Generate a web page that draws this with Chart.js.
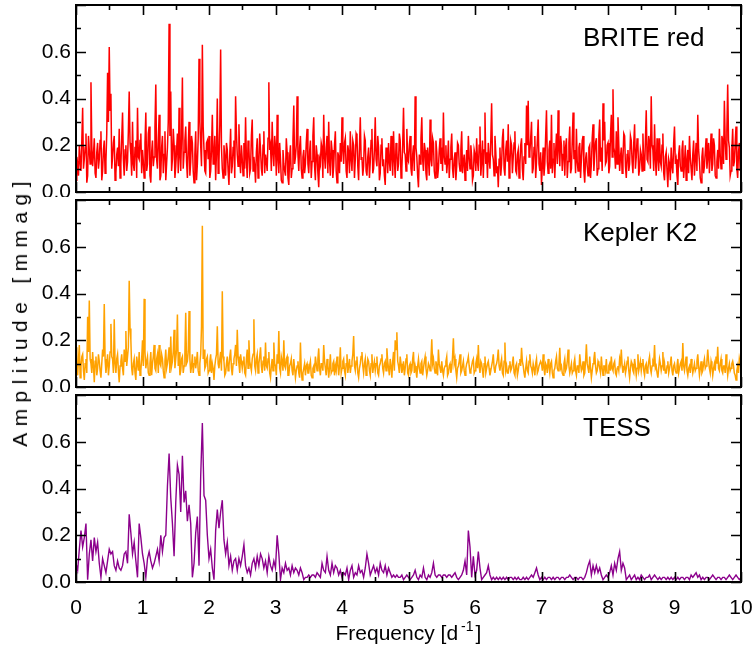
<!DOCTYPE html>
<html>
<head>
<meta charset="utf-8">
<script src="https://cdn.jsdelivr.net/npm/chart.js@4.4.1/dist/chart.umd.min.js"></script>
<style>
body { margin: 0; background: #fff; }
#fig { position: relative; width: 753px; height: 646px; overflow: hidden; }
#fig canvas { position: absolute; left: 0; }
#ylab {
    position: absolute; left: 20px; top: 311px;
    transform: translate(-50%, -50%) rotate(-90deg);
    white-space: nowrap; font: 21px "Liberation Sans", Arial, sans-serif;
    letter-spacing: 6.4px; color: #000; line-height: 24px;
}
</style>
</head>
<body>
<div id="fig">
    <canvas id="briteChart" width="753" height="197" style="top:0px"></canvas>
    <canvas id="k2Chart" width="753" height="197" style="top:195px"></canvas>
    <canvas id="tessChart" width="753" height="256" style="top:390px"></canvas>
    <div id="ylab">Amplitude [mmag]</div>
</div>
<script>
// frequency grid: one value every 0.025 c/d from 0 to 10
const freqStep = 0.025;
const panelLabels = ["BRITE red", "Kepler K2", "TESS"];
const yTickLabels = ["0.0", "0.2", "0.4", "0.6"];
const xTickLabels = ["0", "1", "2", "3", "4", "5", "6", "7", "8", "9", "10"];
const xTitle = "Frequency [d";
const xTitleSup = "-1";

// amplitudes in mmag, each row covers 0.5 c/d
const briteRed = [
    0.05,0.12,0.20,0.09,0.36,0.14,0.25,0.07,0.18,0.47,0.11,0.23,0.06,0.21,0.14,0.26,0.09,0.22,0.13,0.51,
    0.62,0.42,0.15,0.24,0.08,0.19,0.27,0.12,0.34,0.07,0.20,0.13,0.43,0.16,0.30,0.09,0.22,0.36,0.14,0.25,
    0.18,0.06,0.34,0.12,0.28,0.04,0.22,0.15,0.46,0.10,0.33,0.07,0.24,0.16,0.05,0.19,0.72,0.43,0.14,0.20,
    0.11,0.25,0.36,0.09,0.49,0.17,0.28,0.06,0.30,0.13,0.21,0.04,0.26,0.12,0.57,0.20,0.63,0.18,0.08,0.22,
    0.24,0.09,0.33,0.15,0.05,0.40,0.13,0.61,0.10,0.20,0.07,0.18,0.03,0.27,0.11,0.22,0.41,0.16,0.29,0.08,
    0.14,0.21,0.32,0.06,0.19,0.10,0.31,0.15,0.04,0.23,0.12,0.18,0.07,0.26,0.16,0.09,0.47,0.20,0.30,0.11,
    0.19,0.33,0.08,0.14,0.04,0.12,0.07,0.17,0.03,0.20,0.10,0.37,0.15,0.41,0.09,0.24,0.06,0.18,0.12,0.27,
    0.08,0.22,0.13,0.32,0.05,0.16,0.02,0.12,0.19,0.33,0.10,0.24,0.30,0.07,0.18,0.11,0.26,0.04,0.15,0.21,
    0.32,0.12,0.23,0.06,0.17,0.26,0.09,0.20,0.14,0.24,0.05,0.32,0.15,0.11,0.22,0.07,0.19,0.13,0.27,0.10,
    0.32,0.11,0.19,0.08,0.23,0.14,0.03,0.17,0.21,0.09,0.15,0.26,0.06,0.18,0.12,0.22,0.10,0.36,0.16,0.27,
    0.13,0.24,0.07,0.20,0.41,0.15,0.02,0.12,0.32,0.09,0.18,0.05,0.14,0.31,0.11,0.21,0.06,0.17,0.10,0.23,
    0.19,0.34,0.12,0.08,0.22,0.14,0.25,0.06,0.17,0.11,0.20,0.09,0.26,0.13,0.05,0.18,0.24,0.10,0.15,0.07,
    0.16,0.23,0.09,0.28,0.13,0.06,0.34,0.17,0.21,0.10,0.38,0.14,0.24,0.08,0.02,0.19,0.12,0.27,0.07,0.22,
    0.29,0.11,0.20,0.15,0.26,0.08,0.18,0.12,0.23,0.05,0.21,0.37,0.39,0.17,0.30,0.10,0.24,0.13,0.31,0.09,
    0.03,0.19,0.12,0.35,0.08,0.22,0.33,0.14,0.06,0.25,0.35,0.11,0.20,0.16,0.07,0.23,0.13,0.28,0.10,0.34,
    0.18,0.27,0.09,0.21,0.14,0.24,0.04,0.17,0.07,0.20,0.12,0.29,0.16,0.23,0.10,0.31,0.19,0.38,0.30,0.13,
    0.21,0.11,0.33,0.44,0.17,0.26,0.32,0.09,0.19,0.14,0.24,0.06,0.18,0.12,0.22,0.08,0.29,0.15,0.20,0.10,
    0.16,0.25,0.09,0.35,0.13,0.21,0.41,0.18,0.29,0.07,0.15,0.23,0.11,0.25,0.05,0.17,0.02,0.12,0.19,0.08,
    0.28,0.14,0.03,0.20,0.09,0.22,0.12,0.05,0.18,0.24,0.10,0.16,0.07,0.21,0.33,0.13,0.04,0.19,0.11,0.23,
    0.15,0.08,0.25,0.12,0.20,0.06,0.18,0.27,0.10,0.22,0.39,0.14,0.46,0.19,0.09,0.27,0.13,0.28,0.06,0.21,
    0.12
];
// BRITE values half way between the grid points above
const briteRedMid = [
    0.15,0.07,0.13,0.22,0.10,0.19,0.04,0.24,0.12,0.20,0.16,0.08,0.17,0.10,0.22,0.05,0.18,0.08,0.25,0.30,
    0.35,0.10,0.21,0.05,0.16,0.11,0.06,0.23,0.14,0.18,0.09,0.26,0.21,0.07,0.12,0.19,0.06,0.15,0.22,0.08,
    0.13,0.21,0.09,0.25,0.07,0.17,0.11,0.28,0.14,0.22,0.05,0.19,0.08,0.26,0.12,0.30,0.24,0.09,0.27,0.06,
    0.18,0.08,0.15,0.25,0.10,0.22,0.13,0.19,0.07,0.24,0.09,0.16,0.05,0.23,0.30,0.11,0.28,0.09,0.21,0.14,
    0.06,0.18,0.12,0.24,0.17,0.08,0.29,0.19,0.06,0.15,0.21,0.09,0.16,0.08,0.19,0.06,0.25,0.11,0.14,0.20,
    0.07,0.10,0.14,0.22,0.08,0.24,0.09,0.11,0.17,0.06,0.25,0.10,0.20,0.08,0.13,0.23,0.18,0.09,0.17,0.24,
    0.07,0.14,0.21,0.05,0.18,0.09,0.23,0.06,0.15,0.06,0.22,0.12,0.20,0.16,0.19,0.10,0.15,0.08,0.21,0.12,
    0.17,0.06,0.24,0.11,0.20,0.08,0.14,0.21,0.06,0.15,0.19,0.08,0.13,0.22,0.06,0.20,0.09,0.17,0.08,0.13,
    0.18,0.21,0.09,0.20,0.08,0.14,0.22,0.06,0.25,0.11,0.19,0.14,0.07,0.24,0.09,0.15,0.06,0.22,0.08,0.18,
    0.14,0.24,0.05,0.20,0.11,0.07,0.19,0.08,0.13,0.24,0.07,0.14,0.21,0.09,0.25,0.06,0.20,0.17,0.09,0.14,
    0.20,0.10,0.16,0.09,0.19,0.07,0.16,0.23,0.14,0.21,0.08,0.19,0.07,0.14,0.23,0.09,0.22,0.06,0.18,0.12,
    0.09,0.15,0.20,0.13,0.06,0.19,0.10,0.14,0.05,0.21,0.12,0.18,0.08,0.16,0.11,0.09,0.15,0.20,0.05,0.18,
    0.09,0.13,0.20,0.07,0.22,0.18,0.12,0.06,0.14,0.22,0.16,0.07,0.17,0.11,0.14,0.07,0.23,0.10,0.18,0.13,
    0.06,0.22,0.08,0.21,0.09,0.16,0.06,0.20,0.10,0.15,0.12,0.20,0.15,0.23,0.08,0.19,0.06,0.22,0.12,0.17,
    0.11,0.07,0.24,0.13,0.18,0.10,0.08,0.21,0.17,0.12,0.18,0.24,0.09,0.22,0.19,0.06,0.21,0.08,0.22,0.14,
    0.08,0.13,0.19,0.06,0.22,0.09,0.14,0.11,0.19,0.06,0.23,0.09,0.21,0.07,0.24,0.13,0.09,0.22,0.12,0.20,
    0.08,0.24,0.15,0.19,0.10,0.12,0.20,0.15,0.08,0.25,0.11,0.16,0.09,0.24,0.13,0.21,0.10,0.23,0.07,0.18,
    0.09,0.12,0.22,0.14,0.24,0.10,0.20,0.09,0.14,0.23,0.09,0.13,0.20,0.08,0.15,0.09,0.14,0.05,0.11,0.21,
    0.12,0.07,0.16,0.11,0.18,0.06,0.20,0.13,0.08,0.15,0.05,0.22,0.14,0.09,0.18,0.06,0.15,0.08,0.17,0.10,
    0.21,0.16,0.09,0.23,0.07,0.13,0.10,0.16,0.24,0.12,0.22,0.26,0.22,0.07,0.18,0.11,0.21,0.10,0.17,0.09
];

const keplerK2 = [
    0.17,0.05,0.18,0.09,0.14,0.03,0.12,0.30,0.37,0.10,0.15,0.02,0.13,0.08,0.11,0.04,0.16,0.355,0.06,0.14,
    0.09,0.27,0.12,0.29,0.06,0.14,0.02,0.11,0.08,0.16,0.24,0.13,0.455,0.20,0.05,0.12,0.03,0.10,0.15,0.07,
    0.20,0.377,0.08,0.13,0.05,0.15,0.10,0.18,0.07,0.14,0.18,0.09,0.12,0.04,0.16,0.10,0.17,0.216,0.11,0.245,
    0.12,0.31,0.15,0.07,0.13,0.09,0.318,0.11,0.325,0.06,0.14,0.10,0.08,0.15,0.05,0.14,0.69,0.16,0.09,0.13,
    0.07,0.14,0.10,0.03,0.12,0.26,0.08,0.15,0.41,0.11,0.06,0.13,0.09,0.16,0.05,0.12,0.18,0.245,0.10,0.14,
    0.08,0.13,0.05,0.16,0.20,0.09,0.12,0.29,0.07,0.14,0.10,0.17,0.06,0.13,0.19,0.08,0.15,0.04,0.12,0.19,
    0.09,0.14,0.24,0.06,0.11,0.20,0.08,0.13,0.05,0.10,0.07,0.12,0.04,0.09,0.06,0.19,0.03,0.08,0.05,0.10,
    0.06,0.11,0.04,0.09,0.13,0.07,0.165,0.05,0.10,0.18,0.08,0.12,0.04,0.14,0.07,0.11,0.09,0.13,0.05,0.17,
    0.08,0.12,0.05,0.14,0.09,0.06,0.11,0.218,0.07,0.13,0.04,0.10,0.15,0.06,0.12,0.08,0.11,0.05,0.14,0.09,
    0.07,0.13,0.05,0.10,0.14,0.06,0.11,0.166,0.08,0.12,0.04,0.15,0.20,0.234,0.09,0.13,0.06,0.11,0.08,0.14,
    0.05,0.10,0.07,0.15,0.09,0.04,0.12,0.06,0.11,0.08,0.13,0.05,0.10,0.07,0.204,0.12,0.06,0.09,0.16,0.08,
    0.11,0.05,0.09,0.13,0.06,0.10,0.08,0.208,0.12,0.04,0.09,0.14,0.07,0.11,0.05,0.10,0.13,0.06,0.09,0.12,
    0.07,0.12,0.18,0.06,0.10,0.04,0.13,0.08,0.11,0.05,0.09,0.14,0.06,0.10,0.16,0.07,0.12,0.05,0.19,0.09,
    0.06,0.11,0.08,0.13,0.05,0.10,0.07,0.12,0.168,0.09,0.04,0.11,0.06,0.14,0.08,0.10,0.05,0.12,0.07,0.09,
    0.10,0.14,0.05,0.09,0.12,0.06,0.11,0.04,0.08,0.13,0.07,0.168,0.09,0.05,0.12,0.08,0.16,0.06,0.10,0.07,
    0.12,0.05,0.09,0.14,0.07,0.11,0.06,0.183,0.08,0.13,0.04,0.10,0.15,0.06,0.11,0.08,0.13,0.05,0.09,0.12,
    0.06,0.10,0.13,0.07,0.11,0.05,0.09,0.12,0.16,0.06,0.10,0.08,0.13,0.04,0.11,0.07,0.12,0.05,0.14,0.09,
    0.07,0.12,0.05,0.10,0.08,0.13,0.06,0.11,0.18,0.09,0.04,0.12,0.07,0.15,0.10,0.06,0.11,0.08,0.13,0.05,
    0.10,0.06,0.12,0.08,0.11,0.188,0.07,0.13,0.05,0.09,0.12,0.06,0.10,0.08,0.14,0.05,0.11,0.07,0.12,0.09,
    0.16,0.08,0.11,0.05,0.10,0.13,0.172,0.07,0.12,0.06,0.09,0.14,0.05,0.10,0.08,0.11,0.06,0.03,0.09,0.12,
    0.08
];
// K2 values half way between the grid points above
const keplerK2Mid = [
    0.09,0.12,0.04,0.13,0.07,0.10,0.06,0.15,0.12,0.06,0.09,0.11,0.05,0.14,0.07,0.10,0.13,0.12,0.10,0.05,
    0.15,0.13,0.06,0.10,0.12,0.07,0.09,0.14,0.05,0.11,0.09,0.17,0.25,0.08,0.10,0.06,0.13,0.07,0.05,0.12,
    0.09,0.15,0.11,0.06,0.10,0.05,0.13,0.08,0.12,0.06,0.10,0.14,0.07,0.11,0.08,0.13,0.06,0.09,0.15,0.08,
    0.16,0.09,0.05,0.12,0.06,0.14,0.10,0.15,0.12,0.09,0.06,0.13,0.11,0.07,0.10,0.26,0.12,0.08,0.12,0.06,
    0.11,0.06,0.08,0.09,0.14,0.10,0.12,0.07,0.13,0.05,0.10,0.07,0.13,0.08,0.10,0.14,0.09,0.13,0.06,0.11,
    0.11,0.06,0.12,0.08,0.11,0.07,0.14,0.09,0.12,0.06,0.13,0.09,0.11,0.07,0.09,0.12,0.06,0.09,0.07,0.10,
    0.05,0.10,0.08,0.13,0.07,0.09,0.12,0.05,0.09,0.12,0.05,0.08,0.07,0.11,0.04,0.07,0.06,0.10,0.09,0.06,
    0.09,0.05,0.08,0.06,0.10,0.12,0.08,0.10,0.07,0.11,0.05,0.09,0.08,0.06,0.10,0.05,0.07,0.10,0.09,0.06,
    0.11,0.07,0.10,0.06,0.12,0.09,0.14,0.09,0.11,0.06,0.08,0.13,0.09,0.10,0.05,0.12,0.07,0.10,0.06,0.11,
    0.10,0.06,0.09,0.12,0.08,0.10,0.07,0.11,0.05,0.09,0.11,0.07,0.16,0.11,0.06,0.10,0.08,0.05,0.12,0.06,
    0.09,0.06,0.12,0.06,0.07,0.09,0.08,0.10,0.05,0.11,0.08,0.07,0.09,0.12,0.10,0.08,0.11,0.05,0.10,0.06,
    0.07,0.08,0.11,0.05,0.09,0.06,0.13,0.10,0.07,0.08,0.11,0.06,0.09,0.07,0.08,0.11,0.09,0.07,0.11,0.06,
    0.10,0.08,0.09,0.11,0.07,0.10,0.06,0.10,0.08,0.07,0.11,0.08,0.09,0.12,0.09,0.10,0.06,0.11,0.07,0.06,
    0.09,0.07,0.10,0.06,0.09,0.05,0.10,0.09,0.11,0.06,0.08,0.07,0.11,0.09,0.06,0.08,0.10,0.06,0.09,0.11,
    0.07,0.08,0.10,0.06,0.09,0.10,0.06,0.07,0.11,0.08,0.10,0.08,0.06,0.10,0.07,0.11,0.09,0.08,0.06,0.10,
    0.07,0.09,0.06,0.10,0.08,0.05,0.11,0.10,0.06,0.08,0.07,0.12,0.09,0.07,0.10,0.06,0.08,0.09,0.07,0.06,
    0.09,0.07,0.08,0.10,0.06,0.08,0.07,0.10,0.09,0.08,0.06,0.11,0.07,0.08,0.10,0.06,0.09,0.08,0.07,0.11,
    0.10,0.07,0.09,0.06,0.11,0.08,0.09,0.10,0.08,0.06,0.08,0.10,0.09,0.07,0.06,0.09,0.06,0.10,0.07,0.09,
    0.07,0.09,0.06,0.10,0.07,0.09,0.10,0.07,0.08,0.06,0.09,0.08,0.07,0.11,0.09,0.08,0.06,0.10,0.08,0.11,
    0.11,0.06,0.09,0.08,0.07,0.10,0.08,0.10,0.07,0.09,0.06,0.09,0.08,0.07,0.10,0.09,0.05,0.07,0.06,0.10
];

const tess = [
    0.08,0.05,0.14,0.22,0.15,0.19,0.25,0.01,0.12,0.18,0.09,0.19,0.13,0.17,0.08,0.02,0.10,0.07,0.04,0.09,
    0.14,0.12,0.13,0.07,0.05,0.09,0.06,0.05,0.07,0.12,0.13,0.08,0.29,0.21,0.12,0.17,0.09,0.02,0.25,0.19,
    0.12,0.08,0.02,0.10,0.13,0.09,0.06,0.08,0.11,0.14,0.09,0.20,0.13,0.19,0.20,0.41,0.55,0.36,0.25,0.11,
    0.34,0.50,0.46,0.30,0.54,0.34,0.39,0.26,0.33,0.25,0.02,0.08,0.21,0.28,0.07,0.45,0.68,0.37,0.35,0.20,
    0.10,0.14,0.06,0.01,0.22,0.31,0.23,0.30,0.35,0.18,0.12,0.17,0.07,0.11,0.05,0.09,0.10,0.05,0.10,0.07,
    0.11,0.16,0.07,0.04,0.06,0.03,0.08,0.10,0.06,0.11,0.07,0.12,0.10,0.06,0.09,0.04,0.11,0.07,0.05,0.09,
    0.06,0.20,0.12,0.01,0.06,0.04,0.08,0.05,0.06,0.03,0.07,0.04,0.06,0.05,0.03,0.06,0.04,0.01,0.02,0.02,
    0.03,0.02,0.03,0.03,0.02,0.04,0.03,0.02,0.08,0.05,0.04,0.11,0.05,0.03,0.08,0.04,0.07,0.06,0.03,0.05,
    0.02,0.04,0.03,0.06,0.01,0.05,0.07,0.02,0.04,0.03,0.07,0.04,0.05,0.02,0.06,0.12,0.08,0.03,0.05,0.07,
    0.04,0.06,0.03,0.08,0.05,0.04,0.07,0.03,0.06,0.04,0.02,0.03,0.02,0.03,0.02,0.02,0.03,0.01,0.02,0.03,
    0.02,0.01,0.02,0.03,0.05,0.02,0.01,0.03,0.02,0.06,0.02,0.01,0.03,0.02,0.04,0.08,0.03,0.02,0.03,0.03,
    0.02,0.03,0.03,0.02,0.03,0.03,0.02,0.03,0.04,0.02,0.01,0.02,0.03,0.05,0.09,0.03,0.22,0.15,0.02,0.11,
    0.03,0.05,0.13,0.06,0.01,0.02,0.03,0.04,0.07,0.03,0.01,0.02,0.01,0.02,0.01,0.02,0.01,0.02,0.01,0.02,
    0.01,0.02,0.02,0.01,0.02,0.01,0.02,0.01,0.01,0.02,0.01,0.02,0.01,0.02,0.03,0.02,0.04,0.06,0.03,0.01,
    0.02,0.01,0.02,0.01,0.02,0.02,0.01,0.02,0.01,0.02,0.02,0.01,0.02,0.02,0.01,0.02,0.02,0.03,0.02,0.01,
    0.02,0.02,0.01,0.02,0.02,0.01,0.02,0.04,0.07,0.09,0.03,0.07,0.04,0.07,0.04,0.06,0.03,0.01,0.02,0.03,
    0.02,0.04,0.07,0.03,0.08,0.05,0.10,0.13,0.05,0.08,0.06,0.01,0.02,0.03,0.01,0.02,0.03,0.01,0.02,0.01,
    0.03,0.02,0.01,0.02,0.02,0.03,0.01,0.02,0.03,0.02,0.01,0.02,0.01,0.02,0.02,0.01,0.02,0.01,0.02,0.01,
    0.02,0.01,0.02,0.01,0.02,0.02,0.01,0.02,0.02,0.01,0.03,0.02,0.03,0.04,0.02,0.03,0.01,0.02,0.01,0.02,
    0.02,0.01,0.02,0.03,0.02,0.01,0.02,0.02,0.01,0.02,0.02,0.01,0.02,0.03,0.02,0.01,0.02,0.03,0.02,0.01,
    0.02
];

const fontName = "'Liberation Sans', Arial, sans-serif";

function toPoints(values, midValues) {
    let points = [];
    for (let i = 0; i < values.length; i++) {
        points.push({ x: i * freqStep, y: values[i] });
        if (midValues && i < midValues.length) {
            points.push({ x: (i + 0.5) * freqStep, y: midValues[i] });
        }
    }
    return points;
}

// box, inward ticks and the panel name
const framePlugin = {
    id: "frame",
    afterDatasetsDraw(chart, args, opts) {
        const ctx = chart.ctx;
        const a = chart.chartArea;
        const xs = chart.scales.x;
        const ys = chart.scales.y;
        ctx.save();
        ctx.strokeStyle = "#000";
        ctx.lineWidth = 1.6;
        ctx.beginPath();
        for (let k = 0; k <= 20; k++) {
            let px = Math.round(xs.getPixelForValue(k / 2)) + 0.5;
            let len = k % 2 == 0 ? 10 : 5;
            ctx.moveTo(px, a.top); ctx.lineTo(px, a.top + len);
            ctx.moveTo(px, a.bottom); ctx.lineTo(px, a.bottom - len);
        }
        for (let k = 0; k <= 8; k++) {
            let py = Math.round(ys.getPixelForValue(k / 10)) + 0.5;
            let len = k % 2 == 0 ? 10 : 5;
            ctx.moveTo(a.left, py); ctx.lineTo(a.left + len, py);
            ctx.moveTo(a.right, py); ctx.lineTo(a.right - len, py);
        }
        ctx.stroke();
        ctx.lineWidth = 2;
        ctx.strokeRect(a.left, a.top, a.right - a.left, a.bottom - a.top);

        ctx.fillStyle = "#000";
        ctx.font = "26px " + fontName;
        ctx.textAlign = "left";
        ctx.textBaseline = "alphabetic";
        ctx.fillText(opts.label, 583, a.top + 41);

        if (opts.showTitle) {
            let cx = (a.left + a.right) / 2 - 73;
            let by = a.bottom + 58;
            ctx.font = "21px " + fontName;
            ctx.fillText(xTitle, cx, by);
            let w = ctx.measureText(xTitle).width;
            ctx.font = "14px " + fontName;
            ctx.fillText(xTitleSup, cx + w + 3, by - 9);
            ctx.font = "21px " + fontName;
            ctx.fillText("]", cx + 140, by);
        }
        ctx.restore();
    }
};

let charts = [];

function makePanel(canvasId, points, color, lineWidth, label, isBottom) {
    const config = {
        type: "line",
        data: {
            datasets: [{
                data: points,
                borderColor: color,
                borderWidth: lineWidth,
                pointRadius: 0,
                tension: 0,
                fill: false
            }]
        },
        options: {
            responsive: false,
            animation: false,
            devicePixelRatio: 1,
            layout: { padding: { left: 0, right: 12, top: 5, bottom: 0 } },
            plugins: {
                legend: { display: false },
                tooltip: { enabled: false },
                frame: { label: label, showTitle: isBottom }
            },
            scales: {
                x: {
                    type: "linear",
                    min: 0,
                    max: 10,
                    grid: { display: false, drawTicks: false },
                    border: { display: false },
                    ticks: {
                        display: isBottom,
                        stepSize: 1,
                        autoSkip: false,
                        maxRotation: 0,
                        padding: 14,
                        color: "#000",
                        font: { family: fontName, size: 21 },
                        callback: v => xTickLabels[v]
                    },
                    afterFit: s => {
                        s.height = isBottom ? 64 : 5;
                        s.paddingLeft = 0;
                        s.paddingRight = 0;
                    }
                },
                y: {
                    min: 0,
                    max: 0.8,
                    grid: { display: false, drawTicks: false },
                    border: { display: false },
                    ticks: {
                        stepSize: 0.1,
                        autoSkip: false,
                        padding: 5,
                        color: "#000",
                        font: { family: fontName, size: 21 },
                        callback: v => {
                            let k = Math.round(v * 10);
                            return k % 2 == 0 && k < 8 ? yTickLabels[k / 2] : "";
                        }
                    },
                    afterFit: s => {
                        s.width = 76;
                        s.paddingTop = 0;
                        s.paddingBottom = 0;
                    }
                }
            }
        },
        plugins: [framePlugin]
    };
    charts.push(new Chart(document.getElementById(canvasId), config));
}

makePanel("briteChart", toPoints(briteRed, briteRedMid), "rgb(255, 0, 0)", 1.5, panelLabels[0], false);
makePanel("k2Chart", toPoints(keplerK2, keplerK2Mid), "rgb(255, 162, 0)", 1.5, panelLabels[1], false);
makePanel("tessChart", toPoints(tess), "rgb(140, 0, 140)", 1.4, panelLabels[2], true);
</script>
</body>
</html>
